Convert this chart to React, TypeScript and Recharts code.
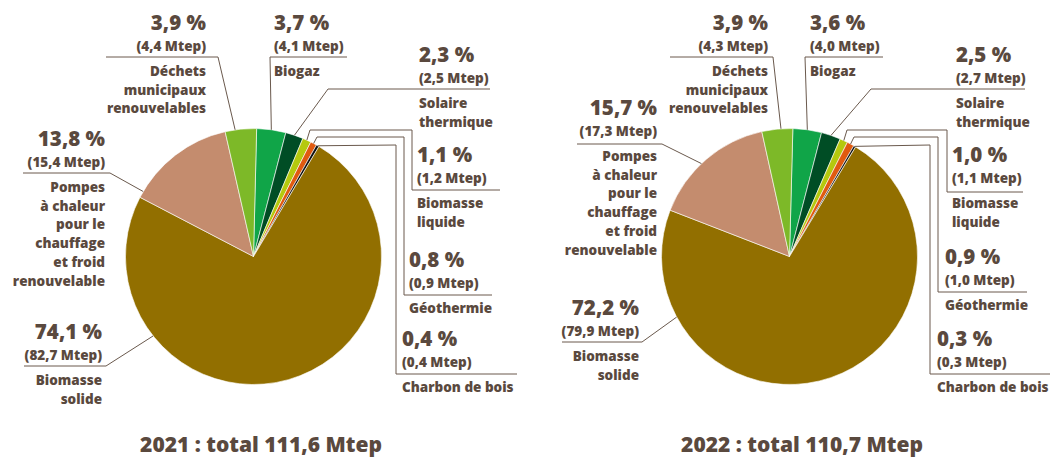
import React from "react";
import { PieChart, Pie, Cell } from "recharts";

// sources, clockwise from the top
const sources = [
  "Biogaz",
  "Solaire thermique",
  "Biomasse liquide",
  "Géothermie",
  "Charbon de bois",
  "Biomasse solide",
  "Pompes à chaleur pour le chauffage et froid renouvelable",
  "Déchets municipaux renouvelables",
];
const nameLines = [
  ["Biogaz"],
  ["Solaire", "thermique"],
  ["Biomasse", "liquide"],
  ["Géothermie"],
  ["Charbon de bois"],
  ["Biomasse", "solide"],
  ["Pompes", "à chaleur", "pour le", "chauffage", "et froid", "renouvelable"],
  ["Déchets", "municipaux", "renouvelables"],
];
const pct2021 = [3.7, 2.3, 1.1, 0.8, 0.4, 74.1, 13.8, 3.9];
const mtep2021 = [4.1, 2.5, 1.2, 0.9, 0.4, 82.7, 15.4, 4.4];
const pct2022 = [3.6, 2.5, 1.0, 0.9, 0.3, 72.2, 15.7, 3.9];
const mtep2022 = [4.0, 2.7, 1.1, 1.0, 0.3, 79.9, 17.3, 4.3];
const titles = ["2021 : total 111,6 Mtep", "2022 : total 110,7 Mtep"];

const colors = ["#10a548", "#004d25", "#b5c90e", "#e05a10", "#111111", "#926f00", "#c48c6e", "#7db928"];
const TEXT = "#5a493e";
const LINE = "#6a594d";
const FONT = "'Open Sans', sans-serif";

type Lbl = { x: number; y: number; anchor: "start" | "end"; f?: number; path: [number, number][] };

const layout2021: Lbl[] = [
  { x: 274, y: 30, anchor: "start", path: [[270, 57], [347, 57]] },
  { x: 419, y: 62, anchor: "start", path: [[328, 89], [490, 89]] },
  { x: 417, y: 162, anchor: "start", path: [[310, 130], [412, 130], [412, 190], [500, 190]] },
  { x: 409, y: 267, anchor: "start", path: [[317, 137], [404, 137], [404, 295], [492, 295]] },
  { x: 402, y: 346, anchor: "start", path: [[396, 145], [396, 374], [517, 374]] },
  { x: 102, y: 339, anchor: "end", f: 0.753, path: [[106, 366], [24, 366]] },
  { x: 105, y: 146, anchor: "end", f: 0.06, path: [[110, 173], [23, 173]] },
  { x: 206, y: 30, anchor: "end", f: 0.32, path: [[218, 57], [106, 57]] },
];

const layout2022: Lbl[] = [
  { x: 810, y: 30, anchor: "start", path: [[805, 57], [883, 57]] },
  { x: 956, y: 62, anchor: "start", path: [[871, 89], [1025, 89]] },
  { x: 952, y: 162, anchor: "start", path: [[847, 130], [947, 130], [947, 192], [1023, 192]] },
  { x: 945, y: 264, anchor: "start", path: [[854, 137], [938, 137], [938, 292], [1027, 292]] },
  { x: 937, y: 346, anchor: "start", path: [[930, 145], [930, 374], [1050, 374]] },
  { x: 639, y: 315, anchor: "end", f: 0.81, path: [[642, 342], [562, 342]] },
  { x: 657, y: 115, anchor: "end", f: 0.45, path: [[662, 144], [577, 144]] },
  { x: 768, y: 30, anchor: "end", f: 0.62, path: [[773, 57], [670, 57]] },
];

const fmt = (v: number) => v.toFixed(1).replace(".", ",");
const RAD = Math.PI / 180;

const makeLabel = (layout: Lbl[], pct: number[], mtep: number[]) => (props: any) => {
  const { cx, cy, outerRadius, startAngle, endAngle, midAngle, index } = props;
  const l = layout[index];
  const a =
    startAngle !== undefined && endAngle !== undefined
      ? startAngle + (l.f ?? 0.5) * (endAngle - startAngle)
      : midAngle;
  const px = cx + outerRadius * Math.cos(a * RAD);
  const py = cy - outerRadius * Math.sin(a * RAD);
  const pts = [[px, py], ...l.path].map((p) => p.join(",")).join(" ");
  return (
    <g key={`lbl-${index}`}>
      <polyline points={pts} fill="none" stroke={LINE} strokeWidth={1} />
      <text x={l.x} y={l.y} textAnchor={l.anchor} fill={TEXT} fontFamily={FONT} fontWeight={800} fontSize={20.5}>
        {fmt(pct[index])} %
      </text>
      <text x={l.x} y={l.y + 21} textAnchor={l.anchor} fill={TEXT} fontFamily={FONT} fontWeight={800} fontSize={13.5}>
        ({fmt(mtep[index])} Mtep)
      </text>
      {nameLines[index].map((s, k) => (
        <text
          key={k}
          x={l.x}
          y={l.y + 46 + k * 18.7}
          textAnchor={l.anchor}
          fill={TEXT}
          fontFamily={FONT}
          fontWeight={800}
          fontSize={13.5}
        >
          {s}
        </text>
      ))}
    </g>
  );
};

const data2021 = sources.map((name, i) => ({ name, value: mtep2021[i] }));
const data2022 = sources.map((name, i) => ({ name, value: mtep2022[i] }));

export default function App() {
  return (
    <div style={{ position: "absolute", left: 0, top: 0, width: 1062, height: 458, background: "#fff" }}>
      <PieChart width={1062} height={458} margin={{ top: 0, right: 0, bottom: 0, left: 0 }}>
        <Pie
          data={data2021}
          dataKey="value"
          cx={253.5}
          cy={256.5}
          outerRadius={128}
          startAngle={88.6}
          endAngle={-271.4}
          stroke="#ffffff"
          strokeWidth={0.6}
          labelLine={false}
          label={makeLabel(layout2021, pct2021, mtep2021)}
          isAnimationActive={false}
        >
          {data2021.map((d, i) => (
            <Cell key={d.name} fill={colors[i]} />
          ))}
        </Pie>
        <Pie
          data={data2022}
          dataKey="value"
          cx={789.5}
          cy={256.5}
          outerRadius={128}
          startAngle={88.5}
          endAngle={-271.5}
          stroke="#ffffff"
          strokeWidth={0.6}
          labelLine={false}
          label={makeLabel(layout2022, pct2022, mtep2022)}
          isAnimationActive={false}
        >
          {data2022.map((d, i) => (
            <Cell key={d.name} fill={colors[i]} />
          ))}
        </Pie>
      </PieChart>
      <svg width={1062} height={458} style={{ position: "absolute", left: 0, top: 0, pointerEvents: "none" }}>
        <text x={261} y={452} textAnchor="middle" fill={TEXT} fontFamily={FONT} fontWeight={800} fontSize={21}>
          {titles[0]}
        </text>
        <text x={802} y={452} textAnchor="middle" fill={TEXT} fontFamily={FONT} fontWeight={800} fontSize={21}>
          {titles[1]}
        </text>
      </svg>
    </div>
  );
}
